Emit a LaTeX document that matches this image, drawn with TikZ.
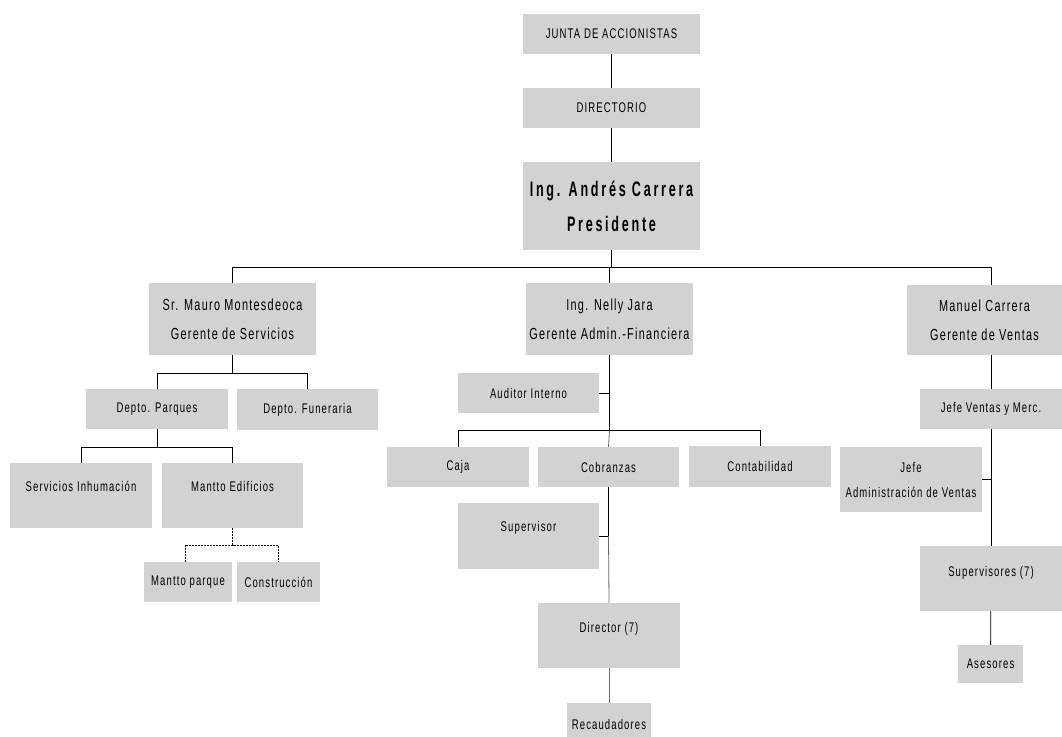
\documentclass[tikz,border=0pt]{standalone}
\usepackage{fontspec}
\setmainfont{Liberation Sans}[FakeStretch=0.68, LetterSpace=8]
\newfontfamily\presfont{Liberation Sans Bold}[FakeStretch=0.6, LetterSpace=13]
\definecolor{boxgray}{RGB}{210,210,210}
\definecolor{linegray}{RGB}{105,105,105}
\tikzset{
  unitbox/.style={fill=boxgray, inner sep=0pt, align=center,
    font=\fontsize{14}{29}\selectfont},
  bossbox/.style={unitbox, font=\fontsize{16}{29}\selectfont},
  topbox/.style={unitbox, text height=10pt, text depth=19pt},
  link/.style={line width=0.8pt},
  graylink/.style={link, draw=linegray},
  dashlink/.style={line width=0.7pt, dash pattern=on 2pt off 1pt}
}

\begin{document}
\begin{tikzpicture}[x=1pt, y=-1pt]
        \useasboundingbox (0,0) rectangle (1062,736);

        % top of the chart
        \node[unitbox, minimum width=177pt, minimum height=40pt] (junta) at (611.5,34) {JUNTA DE ACCIONISTAS};
        \node[unitbox, minimum width=177pt, minimum height=40pt] (directorio) at (611.5,108) {DIRECTORIO};
        \node[unitbox, minimum width=177pt, minimum height=88pt, font=\presfont\fontsize{21}{35}\selectfont] (pres) at (611.5,206) {Ing. Andrés Carrera\\Presidente};

        % gerentes
        \node[bossbox, minimum width=167pt, minimum height=72pt] (mauro) at (232.5,319) {Sr. Mauro Montesdeoca\\Gerente de Servicios};
        \node[bossbox, minimum width=167pt, minimum height=72pt] (nelly) at (609.5,319) {Ing. Nelly Jara\\Gerente Admin.-Financiera};
        \node[bossbox, minimum width=155pt, minimum height=70pt] (manuel) at (984.5,320) {Manuel Carrera\\Gerente de Ventas};

        % servicios
        \node[unitbox, minimum width=142pt, minimum height=40pt] (parques) at (157,409) {Depto. Parques};
        \node[unitbox, minimum width=141pt, minimum height=41pt] (funeraria) at (307.5,409.5) {Depto. Funeraria};
        \node[topbox, minimum width=142pt, minimum height=65pt] (servicios) at (81,495.5) {Servicios Inhumación};
        \node[topbox, minimum width=141pt, minimum height=65pt] (edificios) at (232.5,495.5) {Mantto Edificios};
        \node[unitbox, minimum width=88pt, minimum height=40pt] (mparque) at (188,582) {Mantto parque};
        \node[unitbox, minimum width=83pt, minimum height=40pt] (construccion) at (278.5,582) {Construcción};

        % admin.-financiera
        \node[unitbox, minimum width=141pt, minimum height=40pt] (auditor) at (528.5,393) {Auditor Interno};
        \node[unitbox, minimum width=142pt, minimum height=40pt] (caja) at (458,467) {Caja};
        \node[unitbox, minimum width=141pt, minimum height=40pt] (cobranzas) at (608.5,467) {Cobranzas};
        \node[unitbox, minimum width=142pt, minimum height=41pt] (contab) at (760,466.5) {Contabilidad};
        \node[topbox, minimum width=141pt, minimum height=66pt] (supervisor) at (528.5,536) {Supervisor};
        \node[topbox, minimum width=142pt, minimum height=65pt, text depth=17pt] (director) at (609,635.5) {Director (7)};
        \node[unitbox, minimum width=84pt, minimum height=42pt] (recaud) at (609,724) {Recaudadores};

        % ventas
        \node[unitbox, minimum width=142pt, minimum height=40pt] (jefeventas) at (991,409) {Jefe Ventas y Merc.};
        \node[unitbox, minimum width=142pt, minimum height=65pt, font=\fontsize{14}{25}\selectfont] (jefeadmin) at (911,479.5) {Jefe\\Administración de Ventas};
        \node[topbox, minimum width=142pt, minimum height=65pt, text depth=14pt] (supervisores) at (991,578.5) {Supervisores (7)};
        \node[unitbox, minimum width=65pt, minimum height=38pt] (asesores) at (990.5,664) {Asesores};

        % connectors
        \draw[link] (junta) -- (directorio);
        \draw[link] (directorio) -- (pres);
        \draw[link] (pres.south) -- ++(0,17) coordinate (top);
        \draw[link] (mauro.north) |- (top) -| ([xshift=6.5pt]manuel.north);
        \draw[link] (nelly.north) -- (nelly.north |- top);

        \draw[link] (mauro.south) -- ++(0,18) coordinate (m1);
        \draw[link] (parques.north) |- (m1) -| (funeraria.north);
        \draw[link] (parques.south) -- ++(0,18) coordinate (p1);
        \draw[link] (servicios.north) |- (p1) -| (edificios.north);
        \draw[dashlink] (edificios.south) -- ++(0,17) coordinate (e1);
        \draw[dashlink] ([xshift=-3pt]mparque.north) |- (e1) -| (construccion.north);

        \draw[link] (nelly.south) -- ++(0,75) coordinate (n1);
        \draw[graylink] (n1) -- (cobranzas.north);
        \draw[link] (auditor.east) -- (auditor.east -| nelly.south);
        \draw[link] (caja.north) |- (n1) -| (contab.north);
        \draw[link] (cobranzas.south) -- (cobranzas.south |- supervisor.east) coordinate (c1);
        \draw[link] (supervisor.east) -- (c1);
        \draw[graylink] (c1) -- (director.north);
        \draw[graylink] (director) -- (recaud);

        \draw[link] (jefeventas.north) -- (jefeventas.north |- manuel.south);
        \draw[link] (jefeventas.south) -- (supervisores.north);
        \draw[link] (jefeadmin.east) -- (jefeadmin.east -| jefeventas.south);
        \draw[link] (supervisores) -- (asesores);
      \end{tikzpicture}
\end{document}
